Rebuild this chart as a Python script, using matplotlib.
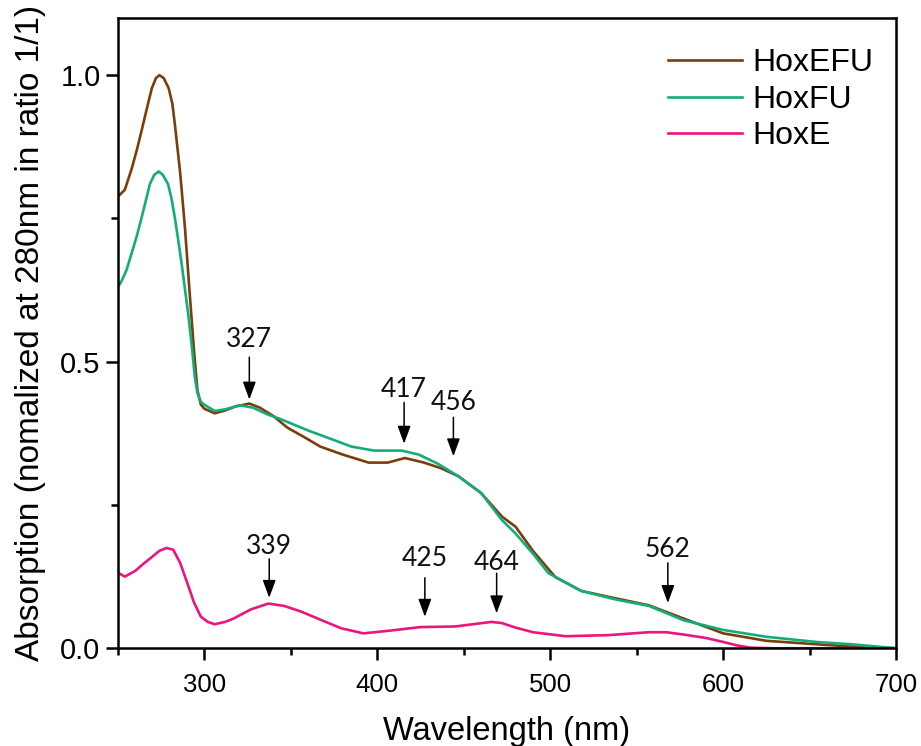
import numpy as np
import matplotlib.pyplot as plt
from matplotlib.ticker import MultipleLocator

# Spectra
wl_efu = [250, 254, 258, 261, 264, 267, 269.6, 272, 274, 276.5, 279.4, 281.5, 283, 286,
          288.7, 291.5, 294, 296, 298, 300, 306, 312, 318, 326, 332, 340, 348, 358, 367,
          380, 395, 406, 416, 427, 437, 447, 460, 472, 480, 490, 503, 518, 538, 557,
          577, 600, 625, 654, 674, 700]
abs_efu = [0.788, 0.80, 0.837, 0.87, 0.907, 0.945, 0.977, 0.995, 1.0, 0.995, 0.977, 0.95,
           0.913, 0.83, 0.737, 0.62, 0.52, 0.45, 0.425, 0.418, 0.41, 0.415, 0.422, 0.427,
           0.42, 0.405, 0.385, 0.368, 0.352, 0.338, 0.324, 0.324, 0.332, 0.324, 0.314,
           0.30, 0.271, 0.23, 0.212, 0.17, 0.124, 0.10, 0.087, 0.075, 0.052, 0.026, 0.013,
           0.007, 0.003, 0.0]

wl_fu = [250, 252, 255, 258, 261, 264, 268.5, 271, 273.6, 276, 279, 281, 283, 285, 287,
         291, 293, 294.4, 296, 298, 300, 306, 312, 320.5, 328, 336.6, 344, 352, 360, 369,
         385, 398, 414, 424, 435, 447, 460, 472, 480, 490, 499, 518, 538, 557, 577, 600,
         625, 654, 674, 700]
abs_fu = [0.63, 0.64, 0.66, 0.69, 0.72, 0.755, 0.81, 0.826, 0.832, 0.826, 0.81, 0.785,
          0.75, 0.71, 0.668, 0.575, 0.52, 0.475, 0.445, 0.43, 0.425, 0.414, 0.417, 0.424,
          0.42, 0.408, 0.40, 0.39, 0.38, 0.37, 0.352, 0.345, 0.345, 0.338, 0.322, 0.30,
          0.271, 0.224, 0.20, 0.165, 0.131, 0.10, 0.085, 0.074, 0.049, 0.032, 0.02, 0.011,
          0.007, 0.0]

wl_e = [250, 254, 260, 265, 270, 274, 278, 282, 286, 290, 294, 298, 302, 306, 312, 317,
        327, 337, 346, 356, 367, 379, 392, 408, 425, 445, 458, 466, 472, 480, 490, 509,
        534, 557, 567, 577, 590, 600, 608, 616, 630, 700]
abs_e = [0.132, 0.125, 0.135, 0.148, 0.16, 0.17, 0.175, 0.172, 0.149, 0.115, 0.08, 0.055,
         0.046, 0.042, 0.046, 0.052, 0.068, 0.078, 0.074, 0.064, 0.05, 0.035, 0.026, 0.031,
         0.037, 0.038, 0.043, 0.046, 0.044, 0.036, 0.028, 0.021, 0.023, 0.028, 0.028,
         0.024, 0.018, 0.011, 0.005, 0.001, 0.0, 0.0]

# peak markers: label, arrow x, arrow top, arrow tip, label y
peak_labels = ["327", "417", "456", "339", "425", "464", "562"]
peak_x = [326, 415.5, 444, 337.5, 427.5, 469, 568]
arrow_top = [0.508, 0.429, 0.403, 0.156, 0.123, 0.131, 0.149]
arrow_tip = [0.434, 0.357, 0.335, 0.088, 0.055, 0.061, 0.079]
label_y = [0.539, 0.452, 0.429, 0.177, 0.157, 0.150, 0.173]

plt.rcParams["font.family"] = ["Liberation Sans", "DejaVu Sans"]

fig = plt.figure(figsize=(9.21, 7.46), dpi=100)
ax = fig.add_axes([0.128, 0.131, 0.845, 0.845])

ax.plot(wl_efu, abs_efu, color="#7A3E0C", lw=1.9, label="HoxEFU")
ax.plot(wl_fu, abs_fu, color="#13AD7A", lw=1.9, label="HoxFU")
ax.plot(wl_e, abs_e, color="#EC1580", lw=1.9, label="HoxE")

for lab, x, top, tip, ly in zip(peak_labels, peak_x, arrow_top, arrow_tip, label_y):
    ax.annotate("", xy=(x, tip), xytext=(x, top),
                arrowprops=dict(arrowstyle="-|>,head_length=0.6,head_width=0.22",
                                color="black", lw=1.1, mutation_scale=18,
                                shrinkA=0, shrinkB=0))
    ax.text(x, ly, lab, ha="center", va="center", fontsize=19,
            family=["Lato", "DejaVu Sans"], color="#111111")

ax.set_xlim(250, 700)
ax.set_ylim(0, 1.1)
ax.xaxis.set_major_locator(MultipleLocator(100))
ax.xaxis.set_minor_locator(MultipleLocator(50))
ax.yaxis.set_major_locator(MultipleLocator(0.5))
ax.yaxis.set_minor_locator(MultipleLocator(0.25))
ax.tick_params(which="major", direction="out", length=8.5, width=1.8)
ax.tick_params(which="minor", direction="out", length=5, width=1.8)
ax.tick_params(axis="x", which="major", labelsize=18.5, pad=9)
ax.tick_params(axis="y", which="major", labelsize=21, pad=4)
for s in ax.spines.values():
    s.set_linewidth(1.8)

ax.set_xlabel("Wavelength (nm)", fontsize=23.5, labelpad=14)
ax.set_ylabel("Absorption (nomalized at 280nm in ratio 1/1)", fontsize=24, labelpad=10)

ax.legend(loc="upper right", bbox_to_anchor=(1.0, 0.987), frameon=False, fontsize=23,
          handlelength=2.3, handletextpad=0.35, labelspacing=0.2, borderaxespad=0.3)

fig.savefig("out.png", dpi=100)
